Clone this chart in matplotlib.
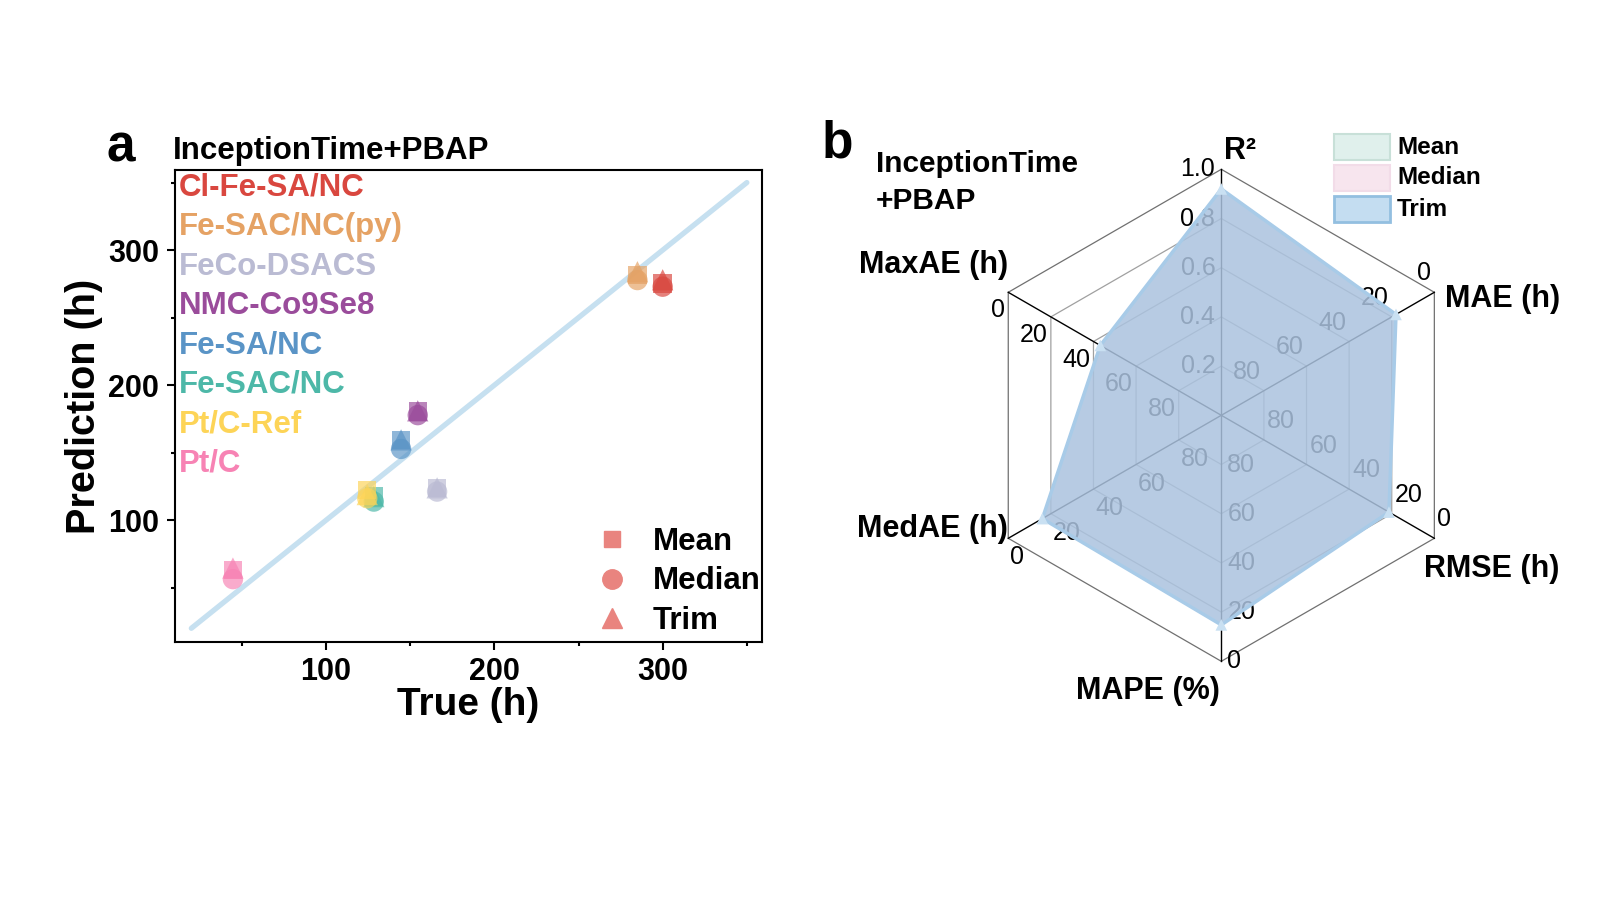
import numpy as np
import matplotlib
matplotlib.use("Agg")
import matplotlib.pyplot as plt
from matplotlib.lines import Line2D
from matplotlib.patches import Rectangle, Polygon

plt.rcParams['font.family'] = ['Liberation Sans', 'DejaVu Sans']

# ---------------- data: panel a ----------------
categories = ['Cl-Fe-SA/NC', 'Fe-SAC/NC(py)', 'FeCo-DSACS', 'NMC-Co9Se8',
              'Fe-SA/NC', 'Fe-SAC/NC', 'Pt/C-Ref', 'Pt/C']
cat_colors = ['#D9473F', '#E5A264', '#BABBD3', '#9A4C9B',
              '#5A94C6', '#4DB8A8', '#FDD457', '#F783B4']
true_vals   = [300, 285, 166, 154.5, 144.6, 128.4, 124.5, 44.7]
pred_mean   = [275.4, 281.5, 123.7, 180.4, 159.5, 117.5, 122.5, 63.3]
pred_median = [272.9, 277.8, 121.2, 177.8, 152.8, 113.8, 116.3, 56.4]
pred_trim   = [278.0, 284.0, 124.0, 181.0, 159.5, 117.5, 119.0, 64.6]
ref_line = [20, 350]
xticks_major = [100, 200, 300]
xticks_minor = [50, 150, 250, 350]

# ---------------- data: panel b ----------------
metrics = ['R\u00b2', 'MAE (h)', 'RMSE (h)', 'MAPE (%)', 'MedAE (h)', 'MaxAE (h)']
metric_angles = [90, 30, -30, -90, 210, 150]
metric_max = [1.0, 100, 100, 100, 100, 100]
metric_inverted = [False, True, True, True, True, True]
radar_mean   = [0.92, 18.5, 21.5, 15.5, 16.5, 43.5]
radar_median = [0.92, 18.0, 21.0, 15.0, 16.6, 43.0]
radar_trim   = [0.92, 18.0, 21.3, 14.8, 16.0, 43.2]
ring_fracs = [0.2, 0.4, 0.6, 0.8, 1.0]
r2_tick_labels = ['0.2', '0.4', '0.6', '0.8', '1.0']
err_tick_labels = ['80', '60', '40', '20', '0']
series_names = ['Mean', 'Median', 'Trim']
series_colors = ['#BEE1D7', '#F0C8DC', '#82B8E3']

W, H = 1600, 900
fig = plt.figure(figsize=(16, 9), dpi=100)

def fx(px):
    return px / W

def fy(py):
    return 1 - py / H

# ================= panel a =================
ax = fig.add_axes([fx(174.5), fy(641.8), (762 - 174.5) / W, (641.8 - 170.4) / H])
ax.plot(ref_line, ref_line, color='#C6E0F0', lw=3.8, solid_capstyle='round', zorder=1)
for i, c in enumerate(cat_colors):
    ax.scatter(true_vals[i], pred_mean[i], marker='s', s=175, color=c, alpha=0.68,
               edgecolors='none', zorder=3)
    ax.scatter(true_vals[i], pred_median[i], marker='o', s=215, color=c, alpha=0.68,
               edgecolors='none', zorder=3)
    ax.scatter(true_vals[i], pred_trim[i], marker='^', s=235, color=c, alpha=0.68,
               edgecolors='none', zorder=3)
ax.set_xlim(10, 359)
ax.set_ylim(10, 359)
ax.set_xticks(xticks_major)
ax.set_xticks(xticks_minor, minor=True)
ax.set_yticks(xticks_major)
ax.set_yticks(xticks_minor, minor=True)
ax.tick_params(which='major', direction='out', length=6, width=1.5, labelsize=22, pad=5)
ax.tick_params(which='minor', direction='out', length=3, width=1.5)
for lab in ax.get_xticklabels() + ax.get_yticklabels():
    lab.set_fontweight('bold')
for sp in ax.spines.values():
    sp.set_linewidth(1.5)
ax.set_xlabel('True (h)', fontsize=28, fontweight='bold', labelpad=0)
ax.set_ylabel('Prediction (h)', fontsize=28.5, fontweight='bold', labelpad=4)

for i, (name, c) in enumerate(zip(categories, cat_colors)):
    ax.text(0.007, 1 - 0.037 - i * 0.0836, name, transform=ax.transAxes, color=c,
            fontsize=22.5, fontweight='bold', ha='left', va='center')

leg_color = '#E9847F'
handles = [Line2D([], [], ls='none', marker='s', ms=12, color=leg_color),
           Line2D([], [], ls='none', marker='o', ms=14, color=leg_color),
           Line2D([], [], ls='none', marker='^', ms=15, color=leg_color)]
leg = ax.legend(handles, series_names, loc='lower right', bbox_to_anchor=(1.045, -0.047),
                frameon=False, prop={'size': 22.5, 'weight': 'bold'},
                handletextpad=0.7, labelspacing=0.3, handlelength=1.2)

fig.text(fx(107), fy(148), 'a', fontsize=37, fontweight='bold', ha='left', va='center')
fig.text(fx(172.4), fy(151), 'InceptionTime+PBAP', fontsize=22.5, fontweight='bold',
         ha='left', va='center')

# ================= panel b =================
cx, cy, R = 1221.3, 415.3, 246.0
xl = (-1.6, 1.5)
yl = (-1.3, 1.3)
axb = fig.add_axes([fx(cx + xl[0] * R), fy(cy - yl[0] * R),
                    (xl[1] - xl[0]) * R / W, (yl[1] - yl[0]) * R / H])
axb.set_xlim(*xl)
axb.set_ylim(*yl)
axb.axis('off')

ang = np.deg2rad(metric_angles)
ux, uy = np.cos(ang), np.sin(ang)

# rings
for f in ring_fracs:
    pts = np.column_stack([f * ux, f * uy])
    axb.add_patch(Polygon(pts, closed=True, fill=False,
                          edgecolor='#707070' if f == 1.0 else '#A0A0A0',
                          lw=0.9, zorder=1))
# spokes
for k in range(len(metrics)):
    axb.plot([0, ux[k]], [0, uy[k]], color='black', lw=1.0, zorder=1.5)

# tick labels
tick_style = {
    90: ('right', (-6, 0)),
    30: ('right', (-3, 19)),
    -30: ('left', (3, 19)),
    -90: ('left', (6, 0)),
    210: ('left', (2, -19)),
    150: ('right', (-3, -18)),
}
for k, a in enumerate(metric_angles):
    labels = r2_tick_labels if not metric_inverted[k] else err_tick_labels
    ha, off = tick_style[a]
    for f, lab in zip(ring_fracs, labels):
        axb.annotate(lab, xy=(f * ux[k], f * uy[k]), xytext=off, textcoords='offset pixels',
                     ha=ha, va='center', fontsize=18, color='black', zorder=2,
                     annotation_clip=False)

def to_frac(vals):
    out = []
    for v, m, inv in zip(vals, metric_max, metric_inverted):
        out.append(1 - v / m if inv else v / m)
    return np.array(out)

alpha_fill = 0.47
for z, (vals, col) in enumerate(zip([radar_mean, radar_median, radar_trim], series_colors)):
    fr = to_frac(vals)
    pts = np.column_stack([fr * ux, fr * uy])
    axb.add_patch(Polygon(pts, closed=True, facecolor=col, alpha=alpha_fill,
                          edgecolor='none', zorder=3 + z))
fr = to_frac(radar_trim)
px_ = np.append(fr * ux, fr[0] * ux[0])
py_ = np.append(fr * uy, fr[0] * uy[0])
axb.plot(px_, py_, color='#A8CBE8', lw=2.5, zorder=7, solid_joinstyle='round')
axb.scatter(fr * ux, fr * uy, marker='^', s=70, color='#C9E0F2', zorder=8, edgecolors='none')

# axis names
fig.text(fx(1224.5), fy(151), metrics[0], fontsize=22, fontweight='bold', ha='left', va='center')
fig.text(fx(1445), fy(299), metrics[1], fontsize=22, fontweight='bold', ha='left', va='center')
fig.text(fx(1423.5), fy(569), metrics[2], fontsize=22, fontweight='bold', ha='left', va='center')
fig.text(fx(1148), fy(691), metrics[3], fontsize=22, fontweight='bold', ha='center', va='center')
fig.text(fx(1008), fy(528.6), metrics[4], fontsize=22, fontweight='bold', ha='right', va='center')
fig.text(fx(1008), fy(265), metrics[5], fontsize=22, fontweight='bold', ha='right', va='center')

fig.text(fx(822), fy(144), 'b', fontsize=37, fontweight='bold', ha='left', va='center')
fig.text(fx(875.5), fy(164.3), 'InceptionTime', fontsize=21.5, fontweight='bold',
         ha='left', va='center')
fig.text(fx(875.5), fy(201), '+PBAP', fontsize=21.5, fontweight='bold', ha='left', va='center')

# legend of panel b
leg_edges = ['#C8E0D8', '#F2DCE8', '#93BFE0']
for i, (name, col, ec) in enumerate(zip(series_names, series_colors, leg_edges)):
    yc = 147 + i * 31
    fig.add_artist(Rectangle((fx(1334), fy(yc + 13)), 56 / W, 26 / H,
                             transform=fig.transFigure, facecolor=col, alpha=alpha_fill,
                             edgecolor='none'))
    fig.add_artist(Rectangle((fx(1334), fy(yc + 13)), 56 / W, 26 / H,
                             transform=fig.transFigure, facecolor='none',
                             edgecolor=ec, lw=2 if i == 2 else 1.5))
    fig.text(fx(1397), fy(yc), name, fontsize=17.5, fontweight='bold', ha='left', va='center')

fig.savefig('out.png', dpi=100)
